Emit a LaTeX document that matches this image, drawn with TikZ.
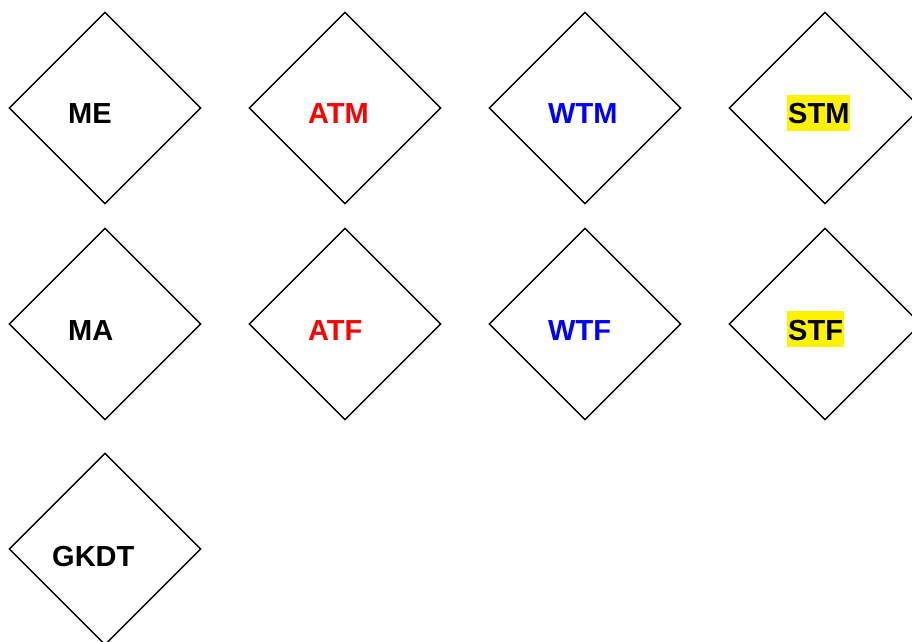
\documentclass[tikz,border=0pt]{standalone}
\usepackage{fontspec}
\setmainfont{Liberation Sans}
\usepackage{tikz}
\usetikzlibrary{shapes}
\tikzstyle{box} = [draw, diamond, line width=1.4pt, minimum width=192pt, minimum height=192pt, inner sep=0pt]
\tikzstyle{tagtext} = [anchor=base west, inner sep=0pt, font=\fontsize{29}{30}\selectfont\bfseries]
\tikzstyle{hl} = [fill=yellow, inner xsep=1pt, text height=29pt, text depth=7pt]

\begin{document}
\begin{tikzpicture}[x=1pt, y=1pt, node distance=240pt]
    \clip (0,0) rectangle (912,641);
    % We start by placing the diamonds, row by row
    \node [box] (me) at (105,533) {};
    \node [box, right of=me] (atm) {};
    \node [box, right of=atm] (wtm) {};
    \node [box, right of=wtm] (stm) {};
    \node [box, below of=me, node distance=216pt] (ma) {};
    \node [box, right of=ma] (atf) {};
    \node [box, right of=atf] (wtf) {};
    \node [box, right of=wtf] (stf) {};
    \node [box, below of=ma, node distance=225pt] (gkdt) {};

    % Then the labels, a little left of each centre
    \node [tagtext] (meL) at ([xshift=-37pt, yshift=-16pt]me.center) {ME};
    \node [tagtext, text=red] (atmL) at ([xshift=-37pt, yshift=-16pt]atm.center) {ATM};
    \node [tagtext, text=blue] (wtmL) at ([xshift=-37pt, yshift=-16pt]wtm.center) {WTM};
    \node [tagtext, hl] (stmL) at ([xshift=-38pt, yshift=-16pt]stm.center) {STM};
    \node [tagtext] (maL) at ([xshift=-37pt, yshift=-16pt]ma.center) {MA};
    \node [tagtext, text=red] (atfL) at ([xshift=-37pt, yshift=-16pt]atf.center) {ATF};
    \node [tagtext, text=blue] (wtfL) at ([xshift=-37pt, yshift=-16pt]wtf.center) {WTF};
    \node [tagtext, hl] (stfL) at ([xshift=-38pt, yshift=-16pt]stf.center) {STF};
    \node [tagtext] (gkdtL) at ([xshift=-53pt, yshift=-17pt]gkdt.center) {GKDT};
\end{tikzpicture}
\end{document}
